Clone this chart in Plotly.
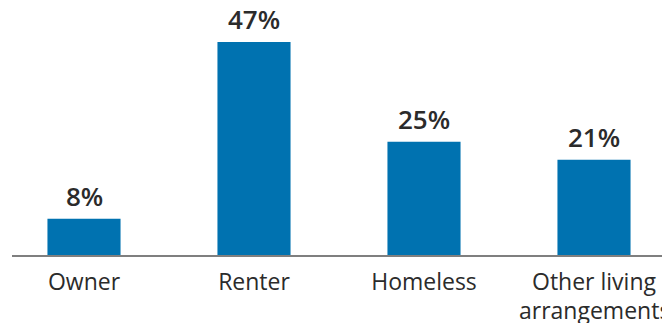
import plotly.graph_objects as go

categories = ["Owner", "Renter", "Homeless", "Other living arrangements"]
values = [8, 47, 25, 21]
value_labels = ["8%", "47%", "25%", "21%"]

bar_color = "#0072B0"
text_color = "#2b2b2b"

x_pos = list(range(len(categories)))

# split each category label into first line (tick label) and optional second line
first_lines = []
second_lines = []
for c in categories:
    if c.startswith("Other living "):
        first_lines.append("Other living")
        second_lines.append(c[len("Other living "):])
    else:
        first_lines.append(c)
        second_lines.append("")

fig = go.Figure()
fig.add_trace(go.Bar(
    x=x_pos,
    y=values,
    marker=dict(color=bar_color, line=dict(width=0)),
    width=0.43,
    hoverinfo="skip",
))

for xi, v, lab in zip(x_pos, values, value_labels):
    fig.add_annotation(
        x=xi, y=v, text=lab, showarrow=False,
        xanchor="center", yanchor="bottom", yshift=3,
        font=dict(family="Open Sans", size=26, color=text_color, weight=600),
    )

for xi, s in zip(x_pos, second_lines):
    if s:
        fig.add_annotation(
            x=xi, xref="x", y=0, yref="paper", text=s, showarrow=False,
            xanchor="center", yanchor="top", yshift=-37,
            font=dict(family="Open Sans", size=23, color=text_color),
        )

fig.update_layout(
    width=662, height=323,
    margin=dict(l=12, r=0, t=0, b=68, autoexpand=False),
    paper_bgcolor="white", plot_bgcolor="white",
    showlegend=False,
    font=dict(family="Open Sans", color="#333333"),
)
fig.update_xaxes(
    range=[-0.4235, 3.4],
    tickmode="array",
    tickvals=x_pos,
    ticktext=first_lines,
    tickfont=dict(family="Open Sans", size=23, color=text_color),
    ticklabeloverflow="allow",
    ticklabelstandoff=6,
    automargin=False,
    showline=True, linecolor="#7f7f7f", linewidth=1.5,
    showgrid=False, zeroline=False, ticks="",
)
fig.update_yaxes(
    range=[0, 56.27],
    visible=False,
    automargin=False,
    showgrid=False, zeroline=False,
)

fig.write_html("out.html")
